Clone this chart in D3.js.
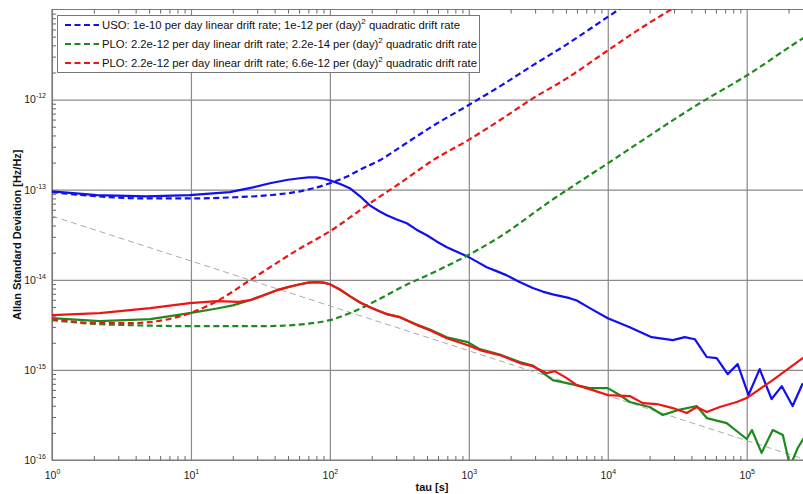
<!DOCTYPE html>
<html>
<head>
<meta charset="utf-8">
<script src="https://cdn.jsdelivr.net/npm/d3@7"></script>
<style>
  body { margin: 0; background: #fff; }
  svg { font-family: "Liberation Sans", Arial, sans-serif; }
</style>
</head>
<body>
<svg width="803" height="494"></svg>
<script>
// [tau (s), Allan deviation]
const usoMeasured = [
  [1, 9.6e-14], [2.1, 8.7e-14], [4.8, 8.45e-14], [9.8, 8.7e-14], [19, 9.4e-14],
  [28, 1.06e-13], [37, 1.18e-13], [50, 1.29e-13], [61, 1.34e-13], [70, 1.37e-13],
  [80, 1.37e-13], [90, 1.33e-13], [100, 1.27e-13], [120, 1.15e-13], [139, 1.04e-13],
  [165, 8.45e-14], [194, 6.7e-14], [225, 5.8e-14], [257, 5.2e-14], [300, 4.7e-14],
  [358, 4.24e-14], [420, 3.6e-14], [499, 3.12e-14], [590, 2.65e-14], [695, 2.3e-14],
  [820, 2.05e-14], [968, 1.83e-14], [1150, 1.58e-14], [1346, 1.38e-14], [1600, 1.24e-14],
  [1876, 1.12e-14], [2300, 9.5e-15], [2885, 8.1e-15], [3400, 7.4e-15], [4020, 6.9e-15],
  [5330, 6.25e-15], [5980, 5.9e-15], [7430, 4.85e-15], [1e4, 3.75e-15], [14400, 2.98e-15],
  [20700, 2.31e-15], [29400, 2.14e-15], [35800, 2.31e-15], [42300, 2.19e-15], [51600, 1.39e-15],
  [60800, 1.35e-15], [73000, 8.98e-16], [86100, 1.16e-15], [1.03e5, 5.26e-16], [1.24e5, 1.02e-15],
  [1.51e5, 4.75e-16], [1.79e5, 6.6e-16], [2.14e5, 3.97e-16], [2.53e5, 7.1e-16]
];
const usoModel = [
  [1, 9.4e-14], [2.1, 8.45e-14], [4.8, 8.0e-14], [9.8, 8.0e-14], [19, 8.2e-14],
  [37, 8.7e-14], [61, 9.6e-14], [75, 1.03e-13], [100, 1.18e-13], [130, 1.38e-13],
  [173, 1.73e-13], [229, 2.12e-13], [319, 2.95e-13], [551, 5.1e-13], [984, 8.6e-13],
  [1671, 1.4e-12], [2885, 2.4e-12], [5070, 4.1e-12], [8750, 7.2e-12], [12000, 1e-11],
  [20000, 1.7e-11]
];
const ploLowMeasured = [
  [1, 3.75e-15], [2.2, 3.47e-15], [5.1, 3.66e-15], [9.8, 4.26e-15], [15.4, 4.8e-15],
  [20, 5.2e-15], [26.6, 5.94e-15], [33, 6.7e-15], [41.6, 7.67e-15], [50, 8.3e-15],
  [61, 8.93e-15], [70, 9.3e-15], [80, 9.4e-15], [90, 9.3e-15], [100, 8.93e-15],
  [118, 7.8e-15], [139, 6.58e-15], [165, 5.6e-15], [194, 4.97e-15], [225, 4.5e-15],
  [257, 4.16e-15], [319, 3.85e-15], [423, 3.18e-15], [524, 2.8e-15], [695, 2.3e-15],
  [984, 2.03e-15], [1200, 1.7e-15], [1671, 1.48e-15], [2330, 1.22e-15], [2885, 1.12e-15],
  [4020, 7.7e-16], [5070, 7.14e-16], [7430, 6.28e-16], [1e4, 6.28e-16], [12200, 5.26e-16],
  [14400, 4.4e-16], [20000, 3.87e-16], [24900, 3.16e-16], [31900, 3.58e-16], [43700, 3.97e-16],
  [51600, 2.92e-16], [71800, 2.57e-16], [1e5, 1.71e-16], [1.09e5, 2.15e-16], [1.28e5, 1.2e-16],
  [1.54e5, 2.15e-16], [1.82e5, 1.89e-16], [2.05e5, 8.5e-17], [2.33e5, 1.36e-16], [2.53e5, 1.67e-16],
  [3e5, 2.5e-16]
];
const ploLowModel = [
  [1, 3.57e-15], [2.2, 3.22e-15], [3.6, 3.14e-15], [9.8, 3.06e-15], [33, 3.06e-15],
  [75, 3.3e-15], [100, 3.57e-15], [156, 4.6e-15], [240, 6.4e-15], [319, 8.1e-15],
  [551, 1.2e-14], [984, 1.87e-14], [1671, 3.0e-14], [3828, 7.4e-14], [1e4, 1.96e-13],
  [45900, 9.1e-13], [1e5, 1.85e-12], [2.53e5, 4.77e-12], [3e5, 5.6e-12]
];
const ploHighMeasured = [
  [1, 4.05e-15], [2.2, 4.26e-15], [5.1, 4.84e-15], [9.8, 5.5e-15], [15.4, 5.79e-15],
  [22, 5.7e-15], [26.6, 5.94e-15], [33, 6.7e-15], [41.6, 7.67e-15], [50, 8.3e-15],
  [61, 8.93e-15], [70, 9.3e-15], [80, 9.4e-15], [90, 9.3e-15], [100, 8.93e-15],
  [118, 7.8e-15], [139, 6.58e-15], [165, 5.6e-15], [194, 4.97e-15], [225, 4.5e-15],
  [257, 4.16e-15], [319, 3.85e-15], [423, 3.14e-15], [524, 2.76e-15], [695, 2.25e-15],
  [984, 1.88e-15], [1200, 1.66e-15], [1671, 1.46e-15], [2330, 1.19e-15], [2885, 1.1e-15],
  [3640, 9.2e-16], [4150, 9.7e-16], [5070, 8.1e-16], [5980, 6.78e-16], [7800, 5.97e-16],
  [1e4, 5.26e-16], [14400, 5.12e-16], [17900, 4.28e-16], [22500, 4.18e-16], [29400, 3.77e-16],
  [37000, 3.32e-16], [43700, 3.87e-16], [51600, 3.41e-16], [64000, 3.87e-16], [84800, 4.4e-16],
  [1e5, 4.87e-16], [1.54e5, 7.7e-16], [2.53e5, 1.35e-15], [3e5, 1.55e-15]
];
const ploHighModel = [
  [1, 3.66e-15], [2.2, 3.3e-15], [3.6, 3.3e-15], [5.1, 3.4e-15], [9.8, 4.26e-15],
  [15.4, 5.8e-15], [26.6, 9.9e-15], [58, 2.13e-14], [100, 3.46e-14], [194, 7.06e-14],
  [319, 1.18e-13], [551, 2.12e-13], [984, 3.53e-13], [1671, 5.9e-13], [2885, 1.03e-12],
  [5070, 1.72e-12], [1e4, 3.51e-12], [15100, 5.4e-12], [29400, 1.03e-11], [50000, 1.7e-11]
];
const whiteFmLine = [[1, 5.1e-14], [3e5, 9.5e-17]];

const legendLabels = [
  ["USO: 1e-10 per day linear drift rate; 1e-12 per (day)", " quadratic drift rate"],
  ["PLO: 2.2e-12 per day linear drift rate; 2.2e-14 per (day)", " quadratic drift rate"],
  ["PLO: 2.2e-12 per day linear drift rate; 6.6e-12 per (day)", " quadratic drift rate"]
];
const xDecades = [1, 10, 100, 1e3, 1e4, 1e5];
const yDecades = [1e-16, 1e-15, 1e-14, 1e-13, 1e-12];

var plotLeft = 52, plotTop = 9.5, plotBottom = 460, plotRight = 813;
var svg = d3.select('svg');

var x = d3.scaleLog().domain([1, 3e5]).range([plotLeft, plotRight]);
var y = d3.scaleLog().domain([1e-16, 1e-11]).range([plotBottom, plotTop]);

svg.append('defs').append('clipPath').attr('id', 'plotclip')
  .append('rect').attr('x', plotLeft).attr('y', plotTop)
  .attr('width', plotRight - plotLeft).attr('height', plotBottom - plotTop);

var gridColor = '#8a8a8a';

// grid
svg.append('g')
  .attr('transform', 'translate(0,' + plotBottom + ')')
  .call(d3.axisBottom(x).tickValues(xDecades).tickSize(-(plotBottom - plotTop)).tickFormat(''))
  .call(g => g.select('.domain').remove())
  .selectAll('line').attr('stroke', gridColor).attr('stroke-width', 1.2);
svg.append('g')
  .attr('transform', 'translate(' + plotLeft + ',0)')
  .call(d3.axisLeft(y).tickValues(yDecades).tickSize(-(plotRight - plotLeft)).tickFormat(''))
  .call(g => g.select('.domain').remove())
  .selectAll('line').attr('stroke', gridColor).attr('stroke-width', 1.2);

// minor ticks (inside)
var xMinor = x.ticks().filter(d => xDecades.indexOf(d) < 0);
var yMinor = y.ticks().filter(d => Math.abs(Math.log10(d) - Math.round(Math.log10(d))) > 1e-6);

function tickStyle(g) {
  g.select('.domain').remove();
  g.selectAll('line').attr('stroke', '#666');
}
svg.append('g').attr('transform', 'translate(0,' + plotBottom + ')')
  .call(d3.axisBottom(x).tickValues(xMinor).tickSize(-4).tickFormat('')).call(tickStyle);
svg.append('g').attr('transform', 'translate(0,' + plotTop + ')')
  .call(d3.axisTop(x).tickValues(xMinor).tickSize(-4).tickFormat('')).call(tickStyle);
svg.append('g').attr('transform', 'translate(' + plotLeft + ',0)')
  .call(d3.axisLeft(y).tickValues(yMinor).tickSize(-4).tickFormat('')).call(tickStyle);

// frame
svg.append('path')
  .attr('d', 'M' + plotRight + ',' + plotTop + 'H' + plotLeft + 'V' + plotBottom + 'H' + plotRight)
  .attr('fill', 'none').attr('stroke', '#777').attr('stroke-width', 1.2);

// tick labels
function powerLabel(sel) {
  sel.each(function(d) {
    var t = d3.select(this).text('10');
    t.append('tspan').attr('dy', -5).attr('font-size', 7).text(Math.round(Math.log10(d)));
  });
}
var xl = svg.append('g').attr('transform', 'translate(0,' + plotBottom + ')')
  .call(d3.axisBottom(x).tickValues(xDecades).tickSize(0).tickPadding(12));
xl.select('.domain').remove();
xl.selectAll('text').attr('font-size', 10.5).attr('fill', '#222').attr('font-family', null).call(powerLabel);

var yl = svg.append('g').attr('transform', 'translate(' + plotLeft + ',0)')
  .call(d3.axisLeft(y).tickValues(yDecades).tickSize(0).tickPadding(6));
yl.select('.domain').remove();
yl.selectAll('text').attr('font-size', 10.5).attr('fill', '#222').attr('font-family', null).call(powerLabel);

// axis titles
svg.append('text')
  .attr('x', 432).attr('y', 491)
  .attr('text-anchor', 'middle').attr('font-size', 11).attr('font-weight', 'bold')
  .attr('fill', '#111').text('tau [s]');
svg.append('text')
  .attr('transform', 'translate(21,' + ((plotTop + plotBottom) / 2) + ') rotate(-90)')
  .attr('text-anchor', 'middle').attr('font-size', 11).attr('font-weight', 'bold')
  .attr('fill', '#111').text('Allan Standard Deviation [Hz/Hz]');

// curves: measured ones are plain polylines, models are smooth
var smoothLine = d3.line().x(d => x(d[0])).y(d => y(d[1])).curve(d3.curveMonotoneX);
var plainLine = d3.line().x(d => x(d[0])).y(d => y(d[1]));
var plot = svg.append('g').attr('clip-path', 'url(#plotclip)');

var series = [
  { data: whiteFmLine, color: '#aaaaaa', width: 1, dash: '6,4', smooth: false },
  { data: usoMeasured, color: '#1010f0', width: 2.2, dash: null, smooth: false },
  { data: usoModel, color: '#1010f0', width: 2.2, dash: '6,3.5', smooth: true },
  { data: ploLowMeasured, color: '#1e8a1e', width: 2.2, dash: null, smooth: false },
  { data: ploLowModel, color: '#1e8a1e', width: 2.2, dash: '6,3.5', smooth: true },
  { data: ploHighMeasured, color: '#f01515', width: 2.2, dash: null, smooth: false },
  { data: ploHighModel, color: '#f01515', width: 2.2, dash: '6,3.5', smooth: true }
];
plot.selectAll('path.curve')
  .data(series)
  .enter()
  .append('path')
  .attr('class', 'curve')
  .attr('d', d => d.smooth ? smoothLine(d.data) : plainLine(d.data))
  .attr('fill', 'none')
  .attr('stroke', d => d.color)
  .attr('stroke-width', d => d.width)
  .attr('stroke-dasharray', d => d.dash)
  .attr('stroke-linejoin', 'round');

// legend
var legendColors = ['#1010f0', '#1e8a1e', '#f01515'];
var legend = svg.append('g');
legend.append('rect')
  .attr('x', 57.5).attr('y', 15.5).attr('width', 422).attr('height', 57)
  .attr('fill', '#fff').attr('stroke', '#777').attr('stroke-width', 1);
var rows = legend.selectAll('g.row')
  .data(legendLabels)
  .enter()
  .append('g')
  .attr('class', 'row')
  .attr('transform', (d, i) => 'translate(0,' + (25 + i * 19) + ')');
rows.append('line')
  .attr('x1', 65).attr('x2', 99).attr('y1', 0).attr('y2', 0)
  .attr('stroke', (d, i) => legendColors[i]).attr('stroke-width', 2.2)
  .attr('stroke-dasharray', '6,3.5');
var lt = rows.append('text')
  .attr('x', 102).attr('y', 4).attr('font-size', 11.3).attr('fill', '#111');
lt.append('tspan').text(d => d[0]);
lt.append('tspan').attr('dy', -5).attr('font-size', 8).text('2');
lt.append('tspan').attr('dy', 5).text(d => d[1]);
</script>
</body>
</html>
